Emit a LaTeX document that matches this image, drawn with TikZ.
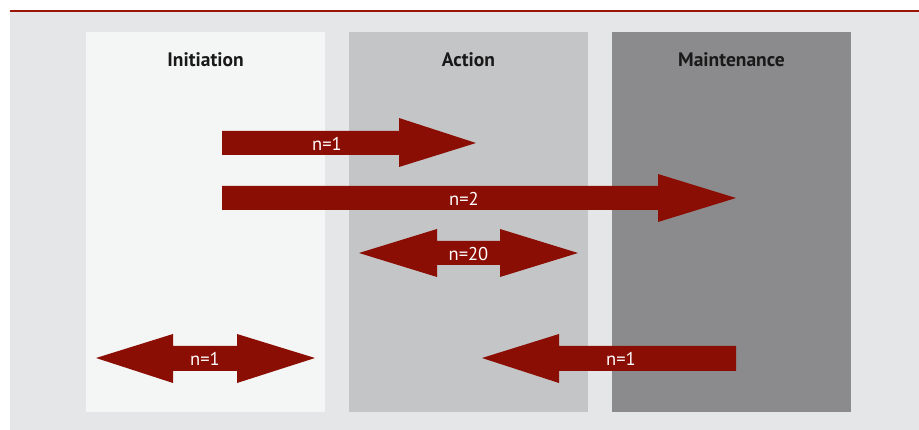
\documentclass[tikz,border=0pt]{standalone}
\usepackage{fontspec}
\setmainfont{PT Sans}
\definecolor{bgc}{HTML}{E5E6E8}
\definecolor{c1}{HTML}{F4F6F5}
\definecolor{c2}{HTML}{C4C5C7}
\definecolor{c3}{HTML}{8B8B8D}
\definecolor{arr}{HTML}{8B0E04}
\definecolor{rl}{HTML}{9B1408}
\begin{document}
\begin{tikzpicture}[x=1pt,y=-1pt,
  head/.style={font=\bfseries\fontsize{19.5}{19.5}\selectfont, text=black!90},
  lab/.style={font=\fontsize{18.5}{18.5}\selectfont, text=white},
  arrowshape/.style={fill=arr, draw=none}]
\useasboundingbox (0,0) rectangle (919,430);
\fill[white] (0,0) rectangle (919,430);
\fill[bgc] (10,12) rectangle (919,430);
\draw[rl, line width=2pt] (10,11) -- (919,11);
% columns
\fill[c1] (86,32) rectangle (325,412);
\fill[c2] (349,32) rectangle (588,412);
\fill[c3] (612,32) rectangle (851,412);
\node[head] (h1) at (205.5,60) {Initiation};
\node[head] (h2) at (468.5,60) {Action};
\node[head] (h3) at (731.5,60) {Maintenance};
% arrow 1: right
\fill[arrowshape] (222,131) -- (399,131) -- (399,118) -- (476,143) -- (399,167) -- (399,155) -- (222,155) -- cycle;
\node[lab] (l1) at (327,144) {n=1};
% arrow 2: right long
\fill[arrowshape] (222,186) -- (658,186) -- (658,174) -- (736,198) -- (658,222) -- (658,210) -- (222,210) -- cycle;
\node[lab] (l2) at (464,199) {n=2};
% arrow 3: double
\fill[arrowshape] (359,253) -- (437,229) -- (437,241) -- (500,241) -- (500,229) -- (578,253) -- (500,277) -- (500,265) -- (437,265) -- (437,277) -- cycle;
\node[lab] (l3) at (468.5,254) {n=20};
% arrow 4: double
\fill[arrowshape] (96,358) -- (173,334) -- (173,346) -- (237,346) -- (237,334) -- (315,358) -- (237,383) -- (237,371) -- (173,371) -- (173,383) -- cycle;
\node[lab] (l4) at (205,359) {n=1};
% arrow 5: left
\fill[arrowshape] (482,358) -- (559,334) -- (559,346) -- (736,346) -- (736,371) -- (559,371) -- (559,383) -- cycle;
\node[lab] (l5) at (621,359) {n=1};
\end{tikzpicture}
\end{document}
